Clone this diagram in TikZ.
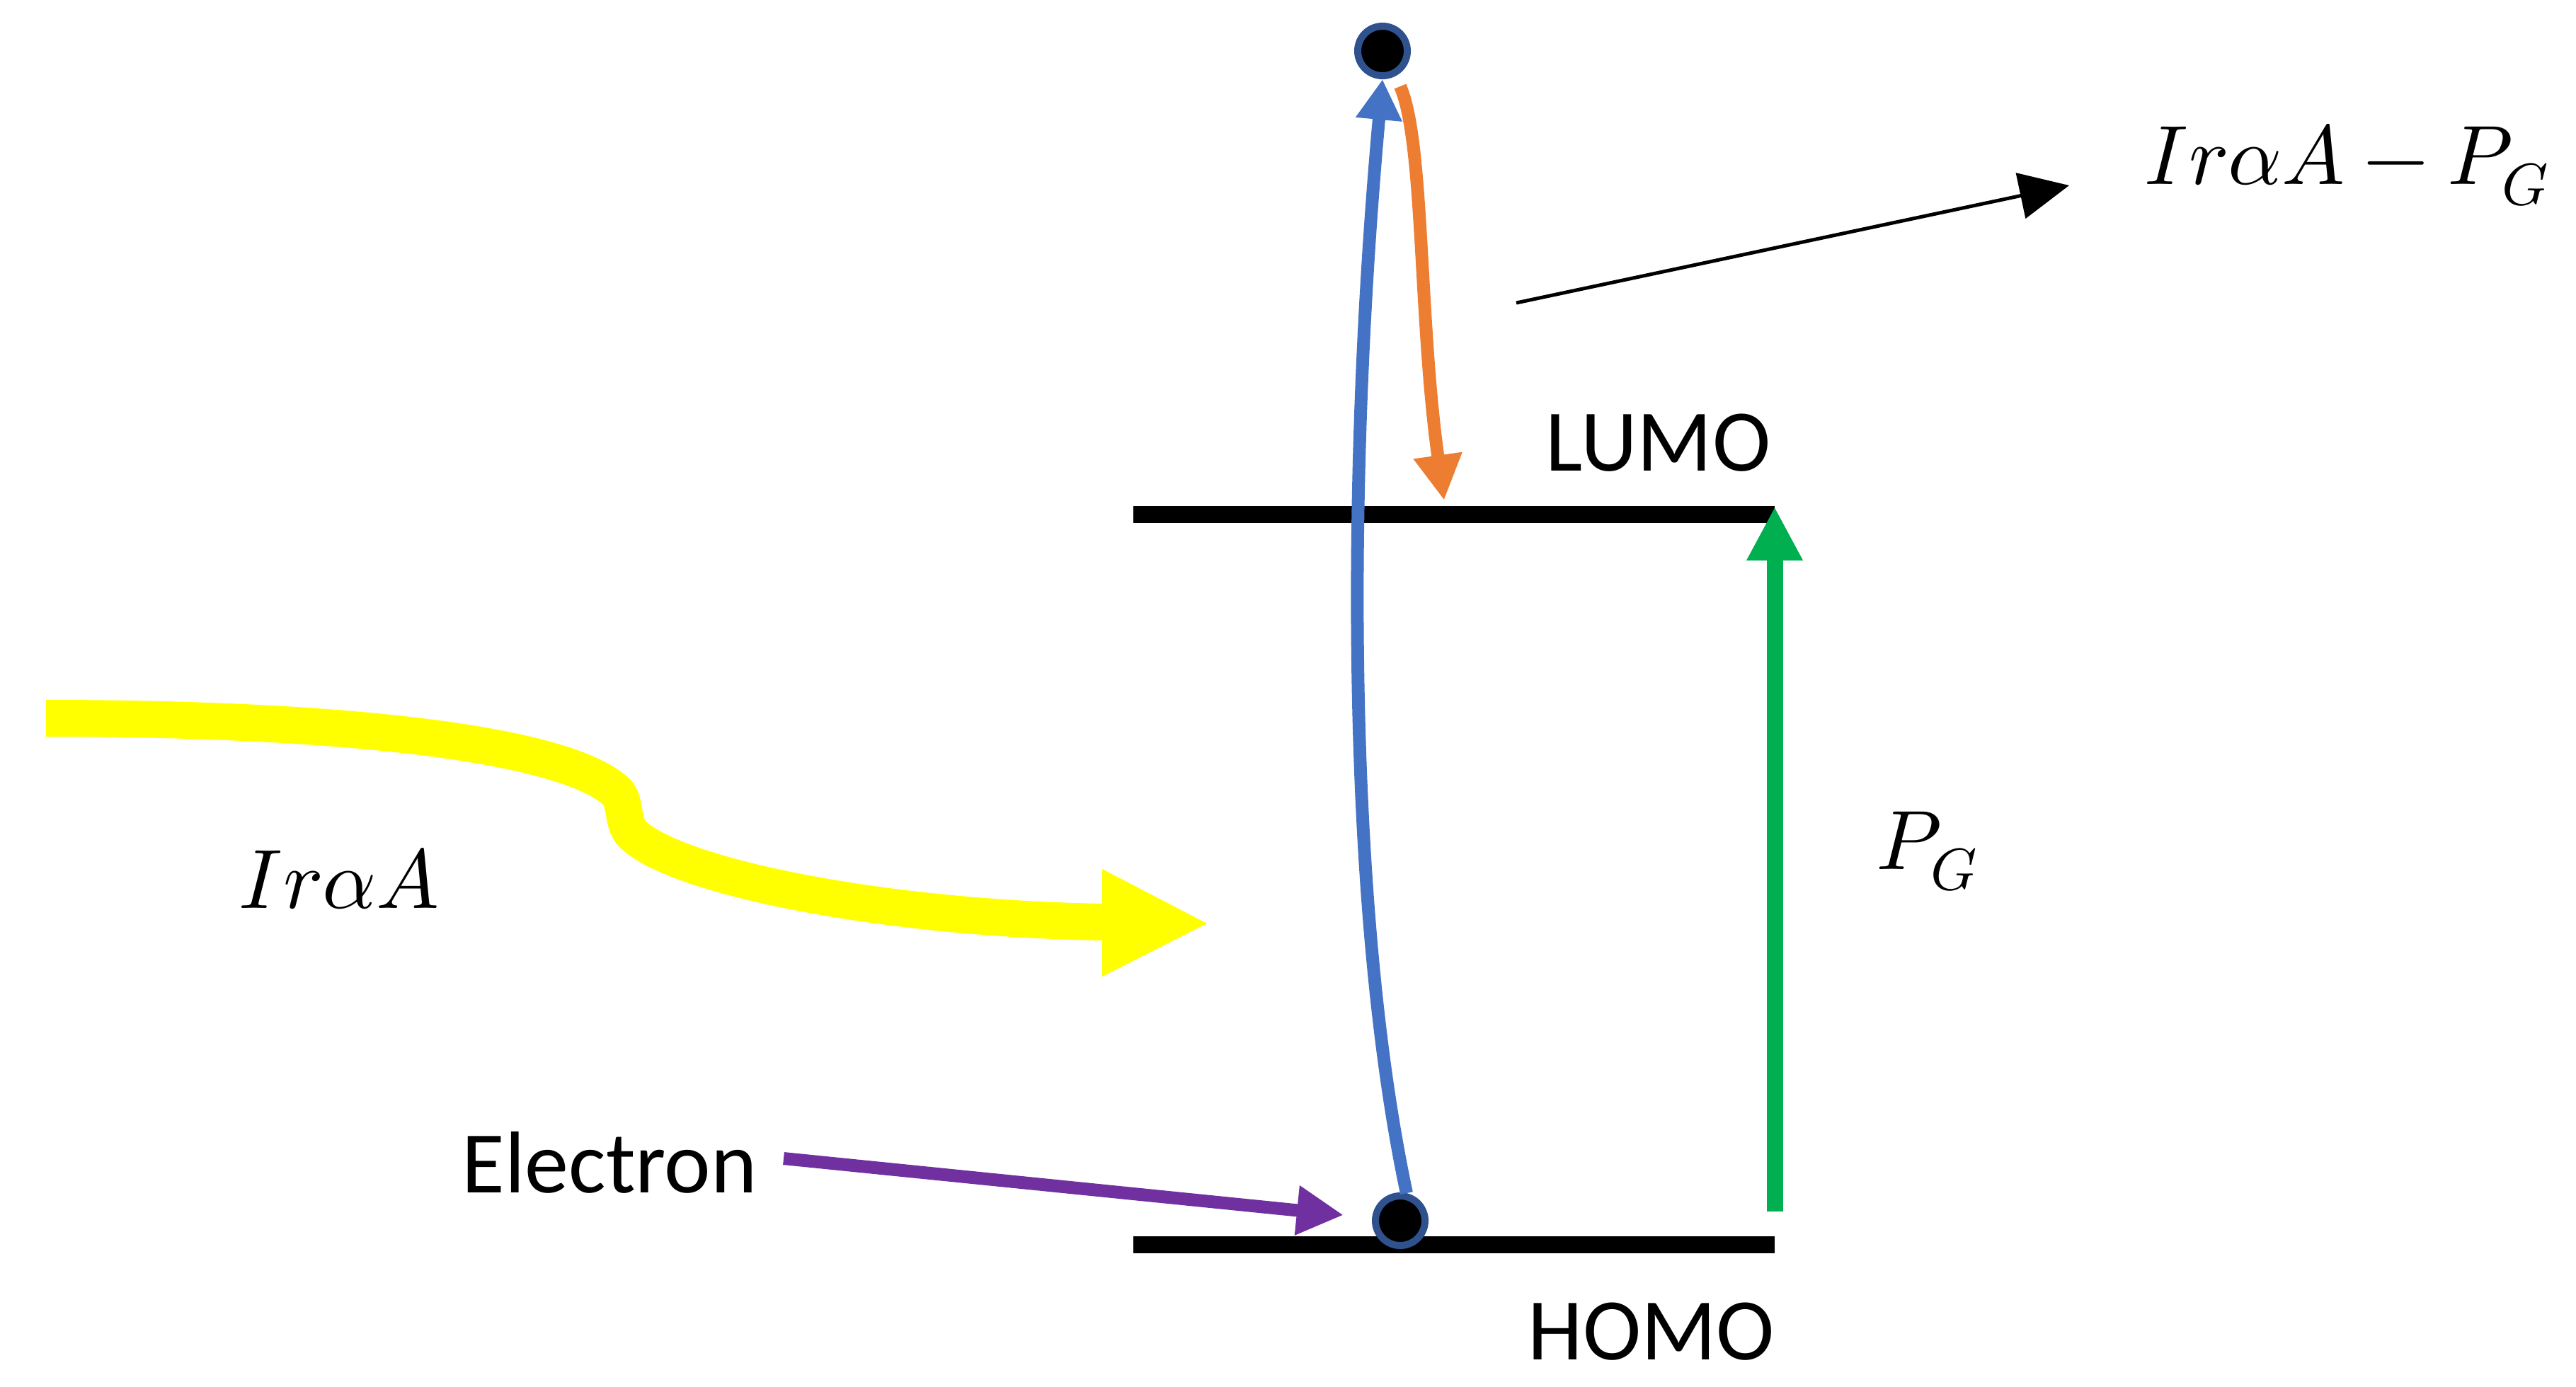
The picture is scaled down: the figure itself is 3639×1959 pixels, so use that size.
\documentclass[tikz,border=0pt]{standalone}
\usepackage{fontspec}
\usepackage{unicode-math}
\setmainfont{Carlito}
\setmathfont{Latin Modern Math}
\usetikzlibrary{arrows.meta}
\definecolor{oblue}{HTML}{4472C4}
\definecolor{ringblue}{HTML}{2F528F}
\definecolor{oorange}{HTML}{ED7D31}
\definecolor{ogreen}{HTML}{00B050}
\definecolor{opurple}{HTML}{7030A0}
\definecolor{oyellow}{HTML}{FFFF00}
\newcommand\labfont{\fontsize{35.3}{42}\selectfont}
\newcommand\mathlabfont{\fontsize{33.8}{40}\selectfont}
\begin{document}
\begin{tikzpicture}[x=0.01cm,y=-0.01cm,
  level/.style={line width=0.24cm, black},
  dot/.style={circle, draw=ringblue, fill=black, line width=0.1cm, minimum size=0.7cm, inner sep=0pt},
  txt/.style={anchor=base west, inner sep=0pt, font=\labfont},
  mtxt/.style={anchor=base west, inner sep=0pt, font=\mathlabfont},
  bluearrow/.style={draw=oblue, line width=0.18cm, -{Triangle[length=0.57cm, width=0.62cm]}},
  orangearrow/.style={draw=oorange, line width=0.18cm, -{Triangle[length=0.64cm, width=0.65cm]}},
  purplearrow/.style={draw=opurple, line width=0.18cm, -{Triangle[length=0.66cm, width=0.66cm]}},
  greenarrow/.style={draw=ogreen, line width=0.23cm, -{Triangle[length=0.76cm, width=0.74cm]}},
  thinarrow/.style={draw=black, line width=0.05cm, -{Triangle[length=0.70cm, width=0.65cm]}},
  yellowshaft/.style={draw=oyellow, line width=0.52cm, line join=round}
]
\useasboundingbox (0,0) rectangle (3639,1959);

% energy levels
\coordinate (lumoL) at (1601,727);
\coordinate (lumoR) at (2507,727);
\coordinate (homoL) at (1601,1759);
\coordinate (homoR) at (2507,1759);
\draw[level] (lumoL) -- (lumoR);
\draw[level] (homoL) -- (homoR);

% labels
\node[txt] (lumo) at (2183,665) {LUMO};
\node[txt] (homo) at (2158,1921) {HOMO};
\node[txt] (electron) at (652,1685) {Electron};
\node[mtxt] (ira) at (337,1283) {$Ir\alpha A$};
\node[mtxt] (irapg) at (3029,260) {$Ir\alpha A-P_G$};
\node[mtxt] (pg) at (2650,1228) {$P_G$};

% yellow incoming light arrow
\coordinate (ys) at (65,1015);
\coordinate (ye) at (1560,1303);
\draw[yellowshaft] (ys) .. controls (480,1015) and (800,1050) .. (872,1120)
   .. controls (885,1135) and (878,1165) .. (895,1180)
   .. controls (960,1240) and (1250,1298) .. (ye);
\fill[oyellow] (1557,1228) -- (1705,1305) -- (1557,1380) -- cycle;

% green arrow (P_G)
\coordinate (gb) at (2507,1712);
\coordinate (gt) at (2507,716);
\draw[greenarrow] (gb) -- (gt);

% electrons
\node[dot] (top) at (1953,72) {};
\node[dot] (bot) at (1978,1725) {};

% excitation (blue)
\draw[bluearrow] (bot.77) .. controls (1905,1300) and (1900,700) .. (top.south);

% relaxation (orange)
\coordinate (os) at (1978,122);
\coordinate (oe) at (2040,707);
\draw[orangearrow] (os) .. controls (2012,200) and (2004,450) .. (oe);

% electron pointer (purple)
\coordinate (ps) at (1107,1637);
\coordinate (pe) at (1898,1717);
\draw[purplearrow] (ps) -- (pe);

% pointer to IrαA-P_G
\coordinate (ks) at (2142,428);
\coordinate (ke) at (2923,262);
\draw[thinarrow] (ks) -- (ke);
\end{tikzpicture}
\end{document}
